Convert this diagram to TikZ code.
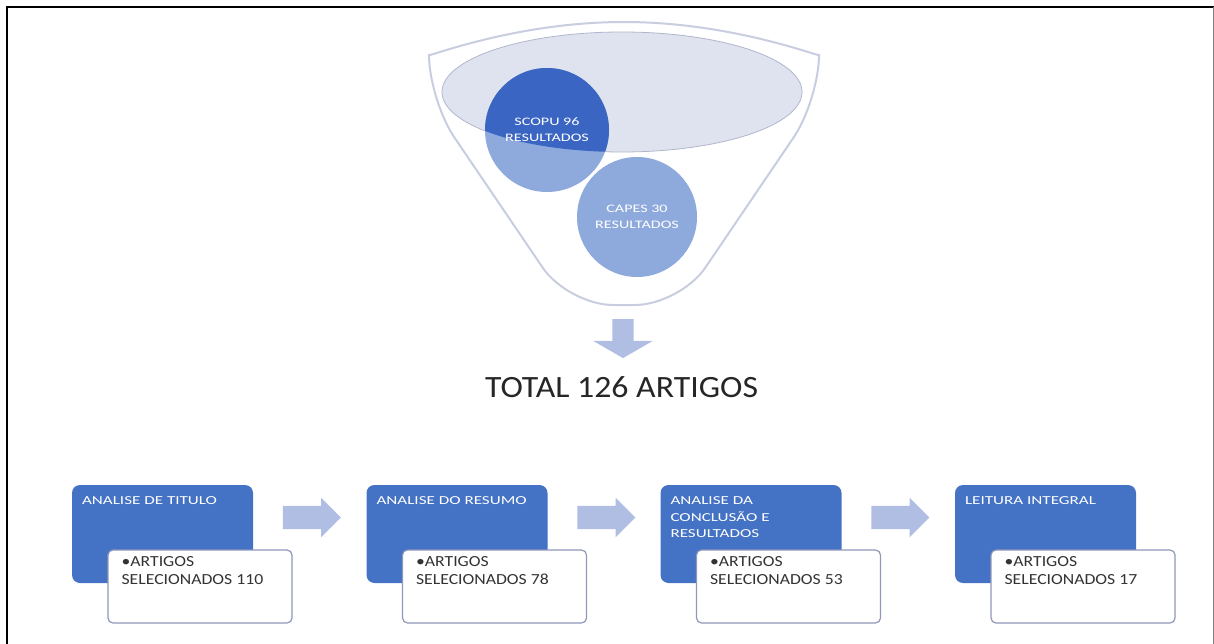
\documentclass[tikz,border=0pt]{standalone}
\usepackage{fontspec}
\setmainfont{Carlito}
\newfontfamily\fontepequena[FakeStretch=1.4]{Carlito}
\newfontfamily\fonteitem[FakeStretch=1.15]{Carlito}
\newfontfamily\fontetotal[FakeStretch=1.09]{Carlito}
\usetikzlibrary{shapes.arrows,positioning}

\definecolor{azul}{HTML}{4472C4}
\definecolor{azulescuro}{HTML}{3A65C2}
\definecolor{azulclaro}{HTML}{8EA9DC}
\definecolor{corseta}{HTML}{B1BEE4}
\definecolor{borda}{HTML}{8F98B9}
\definecolor{vidro}{HTML}{DFE3EF}
\definecolor{contorno}{HTML}{C8CEE0}
\definecolor{texto}{HTML}{333333}

\tikzset{
  passo/.style={rectangle,rounded corners=8pt,fill=azul,minimum width=181pt,minimum height=98pt,inner sep=0pt},
  caixa/.style={rectangle,rounded corners=5pt,draw=borda,line width=1.2pt,fill=white,minimum width=184pt,minimum height=73pt,inner sep=0pt},
  titulo/.style={anchor=north west,text=white,align=left,inner sep=0pt,font=\fontepequena\fontsize{12.2}{16.5}\selectfont},
  item/.style={anchor=north west,text=texto,align=left,inner sep=0pt,font=\fonteitem\fontsize{15.4}{18}\selectfont},
  seta/.style={single arrow,fill=corseta,minimum height=58pt,inner xsep=0pt,inner ysep=11.5pt,single arrow head extend=8pt,single arrow head indent=0pt},
  circulo/.style={circle,inner sep=0pt},
  rotulo/.style={text=white,align=center,inner sep=0pt,font=\fontepequena\fontsize{11.5}{16}\selectfont}
}

\begin{document}
\begin{tikzpicture}[x=1pt,y=-1pt]
  \useasboundingbox (0,0) rectangle (1214,644);

  % moldura
  \draw[line width=2pt] (7,644) -- (7,7) -- (1214,7);
  \draw[gray,line width=1pt] (1213,7) -- (1213,644);

  % funil
  \draw[contorno,line width=2pt,fill=white,rounded corners=45pt]
    (429,100) arc[start angle=180,end angle=360,x radius=195,y radius=78]
    -- (680,305) -- (568,305) -- cycle;
  \draw[fill=vidro,draw=borda!70,line width=0.8pt] (622,92) ellipse [x radius=180,y radius=60];

  \node[circulo,fill=azulclaro,minimum size=124pt] (scopus) at (547,130) {};
  \begin{scope}
    \clip (622,92) ellipse [x radius=180,y radius=60];
    \fill[azulescuro] (scopus.center) circle [radius=62];
  \end{scope}
  \node[rotulo] at (scopus.center) {SCOPU 96\\RESULTADOS};
  \node[circulo,fill=azulclaro,minimum size=120pt,rotulo] (capes) at (637,217) {CAPES 30\\RESULTADOS};

  \node[seta,rotate=-90,minimum height=39pt,inner ysep=10.5pt,single arrow head extend=19pt,single arrow tip angle=120] (baixo) at (623,335.5) {};

  \node[text=black!85,inner sep=0pt,font=\fontetotal\fontsize{31}{36}\selectfont] (total) at (621.5,387) {TOTAL 126 ARTIGOS};

  % etapas
  \node[passo] (p1) at (162.5,534) {};
  \node[passo] (p2) at (457,534) {};
  \node[passo] (p3) at (751,534) {};
  \node[passo] (p4) at (1045.5,534) {};

  \node[titulo] (t1) at ([xshift=10pt,yshift=-12pt]p1.north west) {ANALISE DE TITULO};
  \node[titulo] (t2) at ([xshift=10pt,yshift=-12pt]p2.north west) {ANALISE DO RESUMO};
  \node[titulo] (t3) at ([xshift=10pt,yshift=-12pt]p3.north west) {ANALISE DA\\CONCLUSÃO E\\RESULTADOS};
  \node[titulo] (t4) at ([xshift=10pt,yshift=-12pt]p4.north west) {LEITURA INTEGRAL};

  \node[caixa] (c1) at ([xshift=37.5pt,yshift=-52.5pt]p1.center) {};
  \node[caixa] (c2) at ([xshift=37.5pt,yshift=-52.5pt]p2.center) {};
  \node[caixa] (c3) at ([xshift=37.5pt,yshift=-52.5pt]p3.center) {};
  \node[caixa] (c4) at ([xshift=37.5pt,yshift=-52.5pt]p4.center) {};

  \node[item] (i1) at ([xshift=14pt,yshift=-7pt]c1.north west) {•ARTIGOS\\ SELECIONADOS 110};
  \node[item] (i2) at ([xshift=14pt,yshift=-7pt]c2.north west) {•ARTIGOS\\ SELECIONADOS 78};
  \node[item] (i3) at ([xshift=14pt,yshift=-7pt]c3.north west) {•ARTIGOS\\ SELECIONADOS 53};
  \node[item] (i4) at ([xshift=14pt,yshift=-7pt]c4.north west) {•ARTIGOS\\ SELECIONADOS 17};

  \node[seta] (s1) at ([xshift=143.5pt,yshift=16.5pt]p1.center) {};
  \node[seta] (s2) at ([xshift=143.5pt,yshift=16.5pt]p2.center) {};
  \node[seta] (s3) at ([xshift=143.5pt,yshift=16.5pt]p3.center) {};

\end{tikzpicture}
\end{document}
